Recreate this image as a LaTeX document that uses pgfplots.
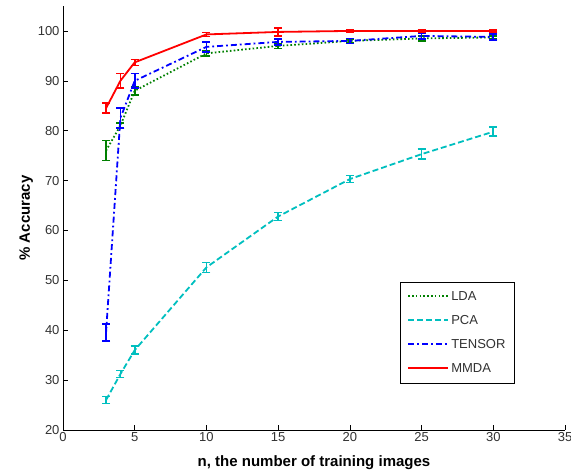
\documentclass[border=0pt]{standalone}
\usepackage{fontspec}
\setmainfont{Liberation Sans}
\usepackage{pgfplots}
\pgfplotsset{compat=1.18}

\definecolor{ldagreen}{RGB}{0,128,0}
\definecolor{pcacyan}{RGB}{0,191,191}
\definecolor{tickgray}{RGB}{50,50,50}

\begin{document}
\begin{tikzpicture}[x=1pt,y=1pt]
\begin{axis}[
  scale only axis,
  width=502pt, height=424pt,
  xmin=0, xmax=35, ymin=20, ymax=105,
  xtick={0,5,...,35}, ytick={20,30,...,100},
  axis x line*=bottom, axis y line*=left,
  axis line style={black, line width=0.8pt},
  tick style={black, line width=0.6pt},
  tick align=inside, major tick length=5pt,
  tick label style={font=\fontsize{13}{13}\selectfont, text=tickgray},
  xticklabel style={yshift=1pt},
  /pgf/number format/assume math mode=true,
  xlabel={\bfseries n, the number of training images},
  ylabel={\bfseries \% Accuracy},
  label style={font=\fontsize{15}{15}\selectfont},
  xlabel style={at={(axis description cs:0.5,0)}, anchor=base, yshift=-37pt},
  ylabel style={yshift=-2pt},
  legend style={at={(axis cs:23.5,29.4)}, anchor=south west,
    font=\fontsize{13}{13}\selectfont, draw=black, thin,
    inner xsep=7pt, inner ysep=7pt, row sep=9.5pt, text=tickgray},
  legend cell align=left,
  legend image code/.code={\draw[#1, line width=2pt] (0pt,0.5pt) -- (40pt,0.5pt);},
  error bars/y dir=both, error bars/y explicit,
  clip=false,
]
\addlegendimage{ldagreen, dash pattern=on 1.6pt off 2.2pt}
\addlegendentry{LDA}
\addlegendimage{pcacyan, dash pattern=on 6pt off 3pt}
\addlegendentry{PCA}
\addlegendimage{blue, dash pattern=on 6pt off 3pt on 1.8pt off 3pt}
\addlegendentry{TENSOR}
\addlegendimage{red, solid}
\addlegendentry{MMDA}

\addplot[forget plot, ldagreen, line width=1.8pt, dash pattern=on 1.6pt off 2.2pt, mark=none,
  error bars/error bar style={ldagreen, solid, line width=1.6pt},
  error bars/error mark options={ldagreen, solid, rotate=90, mark size=4pt, line width=1.6pt}]
coordinates {
  (3,76) +- (0,2)
  (4,81) +- (0,0.5)
  (5,88) +- (0,0.8)
  (10,95.5) +- (0,0.5)
  (15,97) +- (0,0.5)
  (20,98) +- (0,0.3)
  (25,98.5) +- (0,0.5)
  (30,98.7) +- (0,0.3)
};
\addplot[forget plot, pcacyan, line width=1.8pt, dash pattern=on 6pt off 3pt, mark=none,
  error bars/error bar style={pcacyan, solid, line width=1.6pt},
  error bars/error mark options={pcacyan, solid, rotate=90, mark size=4pt, line width=1.6pt}]
coordinates {
  (3,26) +- (0,0.7)
  (4,31.2) +- (0,0.7)
  (5,36) +- (0,0.8)
  (10,52.6) +- (0,1)
  (15,62.8) +- (0,0.8)
  (20,70.3) +- (0,0.7)
  (25,75.3) +- (0,1)
  (30,79.8) +- (0,0.9)
};
\addplot[forget plot, blue, line width=1.8pt, dash pattern=on 6pt off 3pt on 1.8pt off 3pt, mark=none,
  error bars/error bar style={blue, solid, line width=1.6pt},
  error bars/error mark options={blue, solid, rotate=90, mark size=4pt, line width=1.6pt}]
coordinates {
  (3,39.5) +- (0,1.7)
  (4,82.5) +- (0,2)
  (5,90) +- (0,1.5)
  (10,96.8) +- (0,1)
  (15,97.8) +- (0,0.6)
  (20,98) +- (0,0.5)
  (25,99) +- (0,0.6)
  (30,98.8) +- (0,0.6)
};
\addplot[forget plot, red, solid, line width=1.8pt, mark=none,
  error bars/error bar style={red, solid, line width=1.6pt},
  error bars/error mark options={red, solid, rotate=90, mark size=4pt, line width=1.6pt}]
coordinates {
  (3,84.5) +- (0,1)
  (4,90) +- (0,1.5)
  (5,93.7) +- (0,0.6)
  (10,99.3) +- (0,0.4)
  (15,99.8) +- (0,0.8)
  (20,100) +- (0,0.3)
  (25,100) +- (0,0.2)
  (30,100) +- (0,0.2)
};
\end{axis}
\pgfresetboundingbox
\path ([shift={(-63pt,-42pt)}]current axis.south west) rectangle ([shift={(6pt,6pt)}]current axis.north east);
\end{tikzpicture}
\end{document}
